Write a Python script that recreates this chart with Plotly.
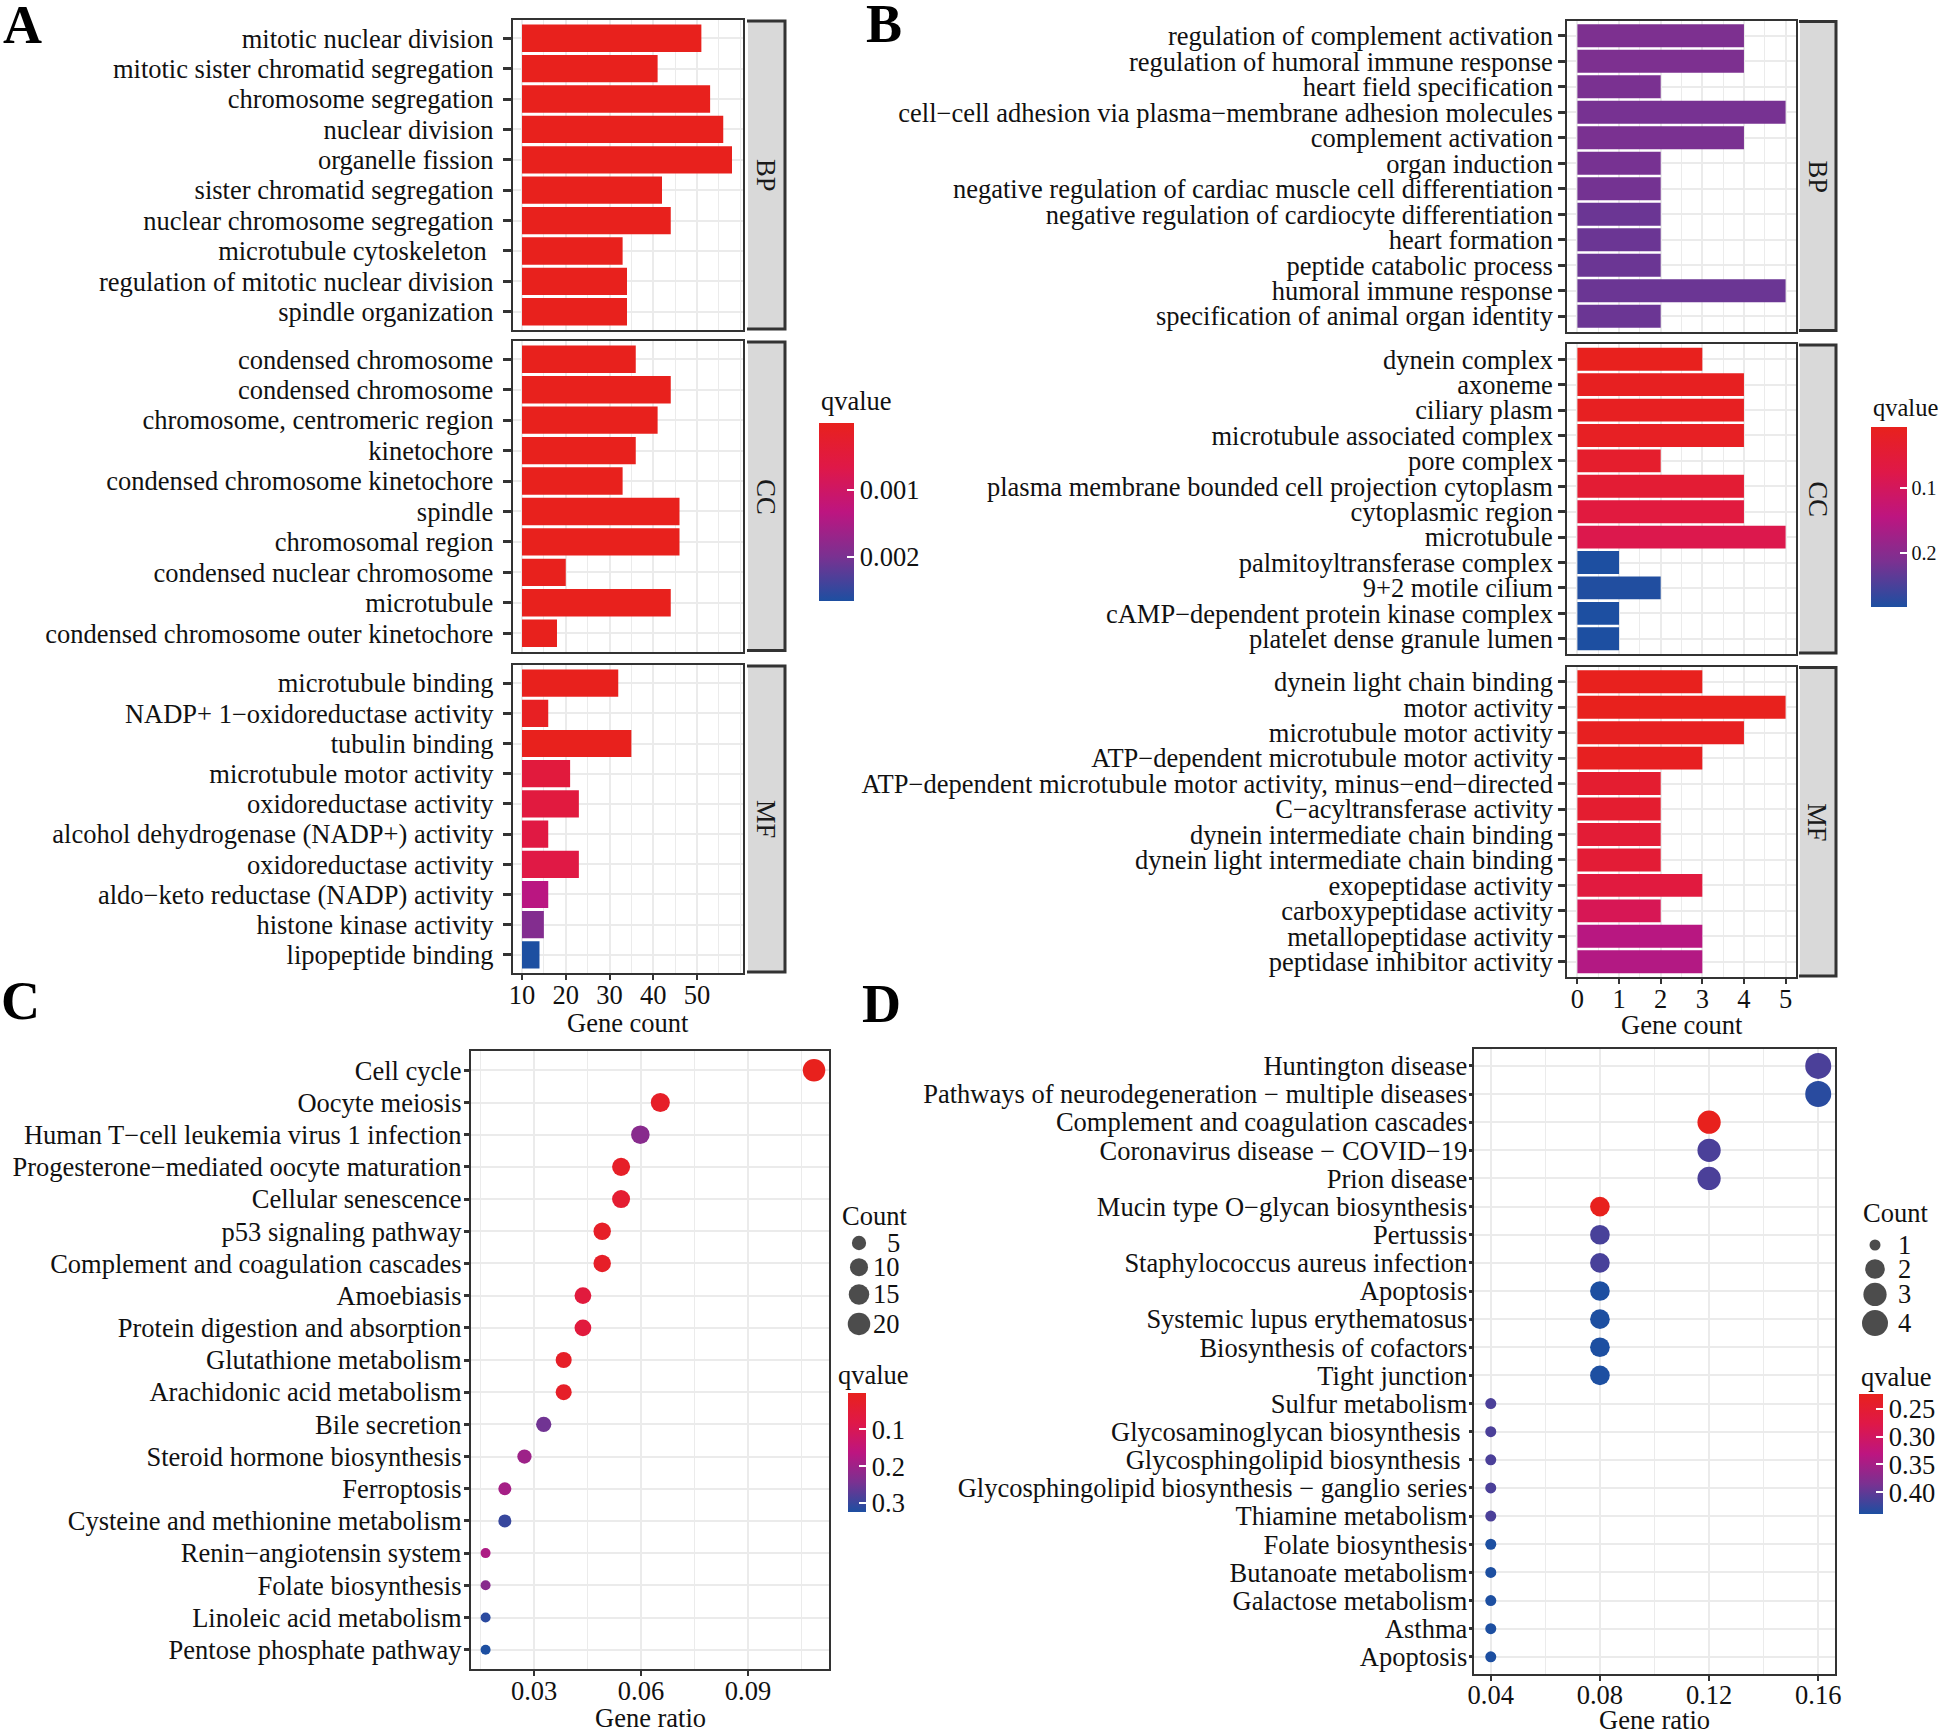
import plotly.graph_objects as go
import numpy as np

W, H = 1946, 1733
FONT = "Liberation Serif"
FS = 26.5
MINUS = "\u2212"
NB = "\u00a0"

# ---------------- Panel A data ----------------
A_BP_terms = ["mitotic nuclear division", "mitotic sister chromatid segregation", "chromosome segregation",
              "nuclear division", "organelle fission", "sister chromatid segregation",
              "nuclear chromosome segregation", "microtubule cytoskeleton" + NB,
              "regulation of mitotic nuclear division", "spindle organization"]
A_BP_count = [51, 41, 53, 56, 58, 42, 44, 33, 34, 34]
A_BP_q = [1e-12, 1e-11, 1e-12, 1e-12, 1e-12, 1e-11, 1e-11, 2e-10, 3e-10, 3e-10]

A_CC_terms = ["condensed chromosome", "condensed chromosome", "chromosome, centromeric region", "kinetochore",
              "condensed chromosome kinetochore", "spindle", "chromosomal region",
              "condensed nuclear chromosome", "microtubule", "condensed chromosome outer kinetochore"]
A_CC_count = [36, 44, 41, 36, 33, 46, 46, 20, 44, 18]
A_CC_q = [1e-12, 1e-12, 1e-12, 1e-12, 1e-11, 1e-9, 1e-9, 1e-8, 1e-8, 2e-8]

A_MF_terms = ["microtubule binding", "NADP+ 1" + MINUS + "oxidoreductase activity", "tubulin binding",
              "microtubule motor activity", "oxidoreductase activity", "alcohol dehydrogenase (NADP+) activity",
              "oxidoreductase activity", "aldo" + MINUS + "keto reductase (NADP) activity",
              "histone kinase activity", "lipopeptide binding"]
A_MF_count = [32, 16, 35, 21, 23, 16, 23, 16, 15, 14]
A_MF_q = [2e-6, 0.0001, 2e-6, 0.0005, 0.00052, 0.00058, 0.00062, 0.00135, 0.0019, 0.00265]

# ---------------- Panel B data ----------------
B_BP_terms = ["regulation of complement activation", "regulation of humoral immune response",
              "heart field specification", "cell" + MINUS + "cell adhesion via plasma" + MINUS + "membrane adhesion molecules",
              "complement activation", "organ induction",
              "negative regulation of cardiac muscle cell differentiation",
              "negative regulation of cardiocyte differentiation", "heart formation",
              "peptide catabolic process", "humoral immune response", "specification of animal organ identity"]
B_BP_count = [4, 4, 2, 5, 4, 2, 2, 2, 2, 2, 5, 2]
B_BP_q = [0.212, 0.212, 0.215, 0.217, 0.215, 0.217, 0.219, 0.226, 0.226, 0.226, 0.226, 0.226]

B_CC_terms = ["dynein complex", "axoneme", "ciliary plasm", "microtubule associated complex", "pore complex",
              "plasma membrane bounded cell projection cytoplasm", "cytoplasmic region", "microtubule",
              "palmitoyltransferase complex", "9+2 motile cilium",
              "cAMP" + MINUS + "dependent protein kinase complex", "platelet dense granule lumen"]
B_CC_count = [3, 4, 4, 4, 2, 4, 4, 5, 1, 2, 1, 1]
B_CC_q = [0.006, 0.010, 0.012, 0.015, 0.030, 0.042, 0.060, 0.080, 0.285, 0.282, 0.285, 0.285]

B_MF_terms = ["dynein light chain binding", "motor activity", "microtubule motor activity",
              "ATP" + MINUS + "dependent microtubule motor activity",
              "ATP" + MINUS + "dependent microtubule motor activity, minus" + MINUS + "end" + MINUS + "directed",
              "C" + MINUS + "acyltransferase activity", "dynein intermediate chain binding",
              "dynein light intermediate chain binding", "exopeptidase activity", "carboxypeptidase activity",
              "metallopeptidase activity", "peptidase inhibitor activity"]
B_MF_count = [3, 5, 4, 3, 2, 2, 2, 2, 3, 2, 3, 3]
B_MF_q = [0.006, 0.004, 0.010, 0.010, 0.035, 0.035, 0.045, 0.045, 0.060, 0.090, 0.150, 0.155]

# ---------------- Panel C data ----------------
C_terms = ["Cell cycle", "Oocyte meiosis", "Human T" + MINUS + "cell leukemia virus 1 infection",
           "Progesterone" + MINUS + "mediated oocyte maturation", "Cellular senescence", "p53 signaling pathway",
           "Complement and coagulation cascades", "Amoebiasis", "Protein digestion and absorption",
           "Glutathione metabolism", "Arachidonic acid metabolism", "Bile secretion",
           "Steroid hormone biosynthesis", "Ferroptosis", "Cysteine and methionine metabolism",
           "Renin" + MINUS + "angiotensin system", "Folate biosynthesis", "Linoleic acid metabolism",
           "Pentose phosphate pathway"]
C_ratio = [0.1085, 0.0654, 0.0598, 0.0544, 0.0544, 0.0491, 0.0491, 0.0437, 0.0437, 0.0383, 0.0383,
           0.0327, 0.0273, 0.0218, 0.0218, 0.0164, 0.0164, 0.0164, 0.0164]
C_count = [20, 12, 11, 10, 10, 9, 9, 8, 8, 7, 7, 6, 5, 4, 4, 3, 3, 3, 3]
C_q = [0.0002, 0.02, 0.225, 0.02, 0.04, 0.02, 0.02, 0.06, 0.06, 0.02, 0.02, 0.25, 0.20, 0.19, 0.30,
       0.18, 0.225, 0.31, 0.3225]

# ---------------- Panel D data ----------------
D_terms = ["Huntington disease", "Pathways of neurodegeneration " + MINUS + " multiple diseases",
           "Complement and coagulation cascades", "Coronavirus disease " + MINUS + " COVID" + MINUS + "19",
           "Prion disease", "Mucin type O" + MINUS + "glycan biosynthesis", "Pertussis",
           "Staphylococcus aureus infection", "Apoptosis", "Systemic lupus erythematosus",
           "Biosynthesis of cofactors", "Tight junction", "Sulfur metabolism",
           "Glycosaminoglycan biosynthesis" + NB, "Glycosphingolipid biosynthesis" + NB,
           "Glycosphingolipid biosynthesis " + MINUS + " ganglio series", "Thiamine metabolism",
           "Folate biosynthesis", "Butanoate metabolism", "Galactose metabolism", "Asthma", "Apoptosis"]
D_ratio = [0.16, 0.16, 0.12, 0.12, 0.12, 0.08, 0.08, 0.08, 0.08, 0.08, 0.08, 0.08,
           0.04, 0.04, 0.04, 0.04, 0.04, 0.04, 0.04, 0.04, 0.04, 0.04]
D_count = [4, 4, 3, 3, 3, 2, 2, 2, 2, 2, 2, 2, 1, 1, 1, 1, 1, 1, 1, 1, 1, 1]
D_q = [0.412, 0.432, 0.2237, 0.412, 0.412, 0.2237, 0.414, 0.414, 0.4387, 0.4387, 0.4387, 0.4387,
       0.412, 0.412, 0.412, 0.412, 0.412, 0.4387, 0.4387, 0.4387, 0.4387, 0.4387]

# legend / colourbar tick values
A_qticks = [0.001, 0.002]
B_qticks = [0.1, 0.2]
C_qticks = [0.1, 0.2, 0.3]
D_qticks = [0.25, 0.30, 0.35, 0.40]
C_size_legend = [5, 10, 15, 20]
D_size_legend = [1, 2, 3, 4]

# ---------------- helpers ----------------
CS = [[0.0, "#1D4FA1"], [0.25, "#7A3191"], [0.5, "#BD1580"], [0.75, "#DF1848"], [1.0, "#E8211D"]]
GRID = "#EBEBEB"
LINE = "#333333"


def px(x):
    return x / W


def py(y):
    return 1 - y / H


def dom_x(a, b):
    return [px(a), px(b)]


def dom_y(top, bottom):
    return [py(bottom), py(top)]


def size_fn(c, cmin, cmax, dmin, dmax):
    c = np.asarray(c, dtype=float)
    return dmin + (dmax - dmin) * np.sqrt((c - cmin) / (cmax - cmin))


fig = go.Figure()
layout = dict(width=W, height=H, margin=dict(l=0, r=0, t=0, b=0, autoexpand=False), paper_bgcolor="white",
              plot_bgcolor="white", showlegend=False, font=dict(family=FONT, size=FS, color="#111"))
annotations = []
shapes = []


def colorbar(x_left, y_top, length, thick, ticktext, ticks, fs):
    return dict(x=px(x_left), xanchor="left", y=py(y_top), yanchor="top", len=length, lenmode="pixels",
                thickness=thick, thicknessmode="pixels", xpad=0, ypad=0, outlinewidth=0,
                tickvals=[-t for t in ticks], ticktext=ticktext,
                ticks="inside", tickcolor="white", ticklen=7, tickwidth=1.5,
                tickfont=dict(family=FONT, size=fs, color="#111"), title=dict(text=""))


def yaxis_cfg(terms, dom, anchor, ticklen, standoff):
    n = len(terms)
    return dict(domain=dom, anchor=anchor, range=[n - 0.4, -0.6], tickmode="array",
                tickvals=list(range(n)), ticktext=terms, showgrid=True, gridcolor=GRID, gridwidth=2,
                ticks="outside", ticklen=ticklen, tickwidth=2.5, tickcolor=LINE, showline=True, mirror=True,
                linecolor=LINE, linewidth=1.6, zeroline=False, ticklabelstandoff=standoff,
                tickfont=dict(family=FONT, size=FS, color="#111"))


def xaxis_cfg(dom, anchor, rng, tickvals, minor_dtick, minor_tick0, show, ticktext=None):
    d = dict(domain=dom, anchor=anchor, range=rng, tickmode="array", tickvals=tickvals,
             showgrid=True, gridcolor=GRID, gridwidth=2, showline=True, mirror=True, linecolor=LINE,
             linewidth=1.6, zeroline=False,
             minor=dict(dtick=minor_dtick, tick0=minor_tick0, showgrid=True, gridcolor=GRID, gridwidth=1,
                        ticks=""),
             tickfont=dict(family=FONT, size=FS, color="#111"))
    if ticktext is not None:
        d["ticktext"] = ticktext
    if show:
        d.update(ticks="outside", ticklen=5, tickwidth=2, tickcolor=LINE, showticklabels=True,
                 ticklabelstandoff=-8)
    else:
        d.update(ticks="", showticklabels=False)
    return d


def strip(x0, x1, t, b, lab):
    shapes.append(dict(type="rect", xref="paper", yref="paper", x0=px(x0 + 1), x1=px(x1), y0=py(b), y1=py(t),
                       fillcolor="#D9D9D9", line=dict(width=0), layer="below"))
    shapes.append(dict(type="path", xref="paper", yref="paper",
                       path="M %f,%f L %f,%f L %f,%f L %f,%f" % (px(x0), py(t + 1), px(x1), py(t + 1),
                                                              px(x1), py(b - 1), px(x0), py(b - 1)),
                       line=dict(color=LINE, width=3)))
    annotations.append(dict(xref="paper", yref="paper", x=px((x0 + x1) / 2), y=py((t + b) / 2), text=lab,
                            textangle=90, showarrow=False, font=dict(family=FONT, size=FS, color="#1a1a1a"),
                            xanchor="center", yanchor="middle"))


# ---------------- Panel A bars ----------------
A_sets = [(A_BP_terms, A_BP_count, A_BP_q, (20, 330), "BP"),
          (A_CC_terms, A_CC_count, A_CC_q, (341, 651.5), "CC"),
          (A_MF_terms, A_MF_count, A_MF_q, (665, 973), "MF")]
A_all_q = A_BP_q + A_CC_q + A_MF_q
A_qmin, A_qmax = min(A_all_q), max(A_all_q)
A_base = 10
A_xl, A_xr = 512.5, 742.5
for i, (terms, cnt, q, (t, b), lab) in enumerate(A_sets):
    k = i + 1
    sfx = "" if k == 1 else str(k)
    marker = dict(color=[-v for v in q], colorscale=CS, cmin=-A_qmax, cmax=-A_qmin, line=dict(width=0))
    if k == 2:
        marker.update(showscale=True,
                      colorbar=colorbar(819, 422.7, 178, 35, ["%.3f" % t for t in A_qticks], A_qticks, FS))
    fig.add_trace(go.Bar(y=list(range(len(terms))), x=[c - A_base for c in cnt], base=A_base,
                         orientation="h", width=0.9, marker=marker, xaxis="x" + sfx, yaxis="y" + sfx))
    layout["yaxis" + sfx] = yaxis_cfg(terms, dom_y(t, b), "x" + sfx, 8, 4)
    layout["xaxis" + sfx] = xaxis_cfg(dom_x(A_xl, A_xr), "y" + sfx, [7.83, 60.4], [10, 20, 30, 40, 50], 5, 0,
                                      k == 3)
    strip(747, 785, t, b, lab)

# ---------------- Panel B bars ----------------
B_sets = [(B_BP_terms, B_BP_count, B_BP_q, (20.5, 331.5), "BP"),
          (B_CC_terms, B_CC_count, B_CC_q, (344, 654), "CC"),
          (B_MF_terms, B_MF_count, B_MF_q, (666.5, 977), "MF")]
B_all_q = B_BP_q + B_CC_q + B_MF_q
B_qmin, B_qmax = min(B_all_q), max(B_all_q)
B_xl, B_xr = 1567, 1796
for i, (terms, cnt, q, (t, b), lab) in enumerate(B_sets):
    k = i + 4
    sfx = str(k)
    marker = dict(color=[-v for v in q], colorscale=CS, cmin=-B_qmax, cmax=-B_qmin, line=dict(width=0))
    if k == 5:
        marker.update(showscale=True,
                      colorbar=colorbar(1871, 427, 180, 35.5, ["%g" % t for t in B_qticks], B_qticks, 20))
    fig.add_trace(go.Bar(y=list(range(len(terms))), x=cnt, orientation="h", width=0.9, marker=marker,
                         xaxis="x" + sfx, yaxis="y" + sfx))
    layout["yaxis" + sfx] = yaxis_cfg(terms, dom_y(t, b), "x" + sfx, 7, 0)
    layout["xaxis" + sfx] = xaxis_cfg(dom_x(B_xl, B_xr), "y" + sfx, [-0.25, 5.25], [0, 1, 2, 3, 4, 5], 0.5, 0,
                                      k == 6)
    strip(1799, 1836, t, b, lab)

# ---------------- Panel C dots ----------------
C_cmin, C_cmax = min(C_count), max(C_count)
C_dmin, C_dmax = 10, 22.5
fig.add_trace(go.Scatter(x=C_ratio, y=list(range(len(C_terms))), mode="markers", xaxis="x7", yaxis="y7",
                         marker=dict(size=size_fn(C_count, C_cmin, C_cmax, C_dmin, C_dmax),
                                     color=[-v for v in C_q], colorscale=CS, cmin=-max(C_q), cmax=-min(C_q),
                                     line=dict(width=0), opacity=1, showscale=True,
                                     colorbar=colorbar(848, 1392.5, 118.5, 17.6, ["%g" % t for t in C_qticks],
                                                       C_qticks, FS))))
layout["yaxis7"] = yaxis_cfg(C_terms, dom_y(1051, 1669), "x7", 5, -3)
layout["xaxis7"] = xaxis_cfg(dom_x(470.6, 829), "y7", [0.0122, 0.1127], [0.03, 0.06, 0.09], 0.015, 0, True,
                             ["0.03", "0.06", "0.09"])

# ---------------- Panel D dots ----------------
D_cmin, D_cmax = min(D_count), max(D_count)
D_dmin, D_dmax = 11, 26
fig.add_trace(go.Scatter(x=D_ratio, y=list(range(len(D_terms))), mode="markers", xaxis="x8", yaxis="y8",
                         marker=dict(size=size_fn(D_count, D_cmin, D_cmax, D_dmin, D_dmax),
                                     color=[-v for v in D_q], colorscale=CS, cmin=-max(D_q), cmax=-min(D_q),
                                     line=dict(width=0), opacity=1, showscale=True,
                                     colorbar=colorbar(1859, 1394, 119.5, 24, ["%.2f" % t for t in D_qticks],
                                                       D_qticks, FS))))
layout["yaxis8"] = yaxis_cfg(D_terms, dom_y(1049, 1673.7), "x8", 4, -4)
layout["xaxis8"] = xaxis_cfg(dom_x(1474.4, 1834.6), "y8", [0.034, 0.166], [0.04, 0.08, 0.12, 0.16], 0.02, 0,
                             True, ["0.04", "0.08", "0.12", "0.16"])


# ---------------- size legends ----------------
def size_legend(ax, vals, cmin, cmax, dmin, dmax, x_key, y_first, gap, x_lab, lab_anchor, box):
    d = size_fn(vals, cmin, cmax, dmin, dmax)
    ys = [y_first]
    for i in range(1, len(vals)):
        ys.append(ys[-1] + max((d[i - 1] + d[i]) / 2 + gap, 24))
    fig.add_trace(go.Scatter(x=[x_key] * len(vals), y=ys, mode="markers", xaxis="x" + ax, yaxis="y" + ax,
                             marker=dict(size=d, color="black", line=dict(width=0)), hoverinfo="skip"))
    x0, x1, y0, y1 = box
    layout["xaxis" + ax] = dict(domain=dom_x(x0, x1), anchor="y" + ax, range=[x0, x1], visible=False,
                                fixedrange=True)
    layout["yaxis" + ax] = dict(domain=dom_y(y0, y1), anchor="x" + ax, range=[y1, y0], visible=False,
                                fixedrange=True)
    for v, yy in zip(vals, ys):
        annotations.append(dict(xref="x" + ax, yref="y" + ax, x=x_lab, y=yy, text=str(v), showarrow=False,
                                xanchor=lab_anchor, yanchor="middle",
                                font=dict(family=FONT, size=FS, color="#111")))


size_legend("9", C_size_legend, C_cmin, C_cmax, C_dmin, C_dmax, 859, 1243, 8, 902, "right", (830, 920, 1225, 1345))
size_legend("10", D_size_legend, D_cmin, D_cmax, D_dmin, D_dmax, 1875, 1245, 4, 1896, "left", (1855, 1935, 1225, 1345))

# ---------------- axis titles, legend titles & panel letters ----------------
for txt, x, y in [("Gene count", 627.5, 1023), ("Gene count", 1681.5, 1025),
                  ("Gene ratio", 650, 1717.5), ("Gene ratio", 1654.5, 1719.5)]:
    annotations.append(dict(xref="paper", yref="paper", x=px(x), y=py(y), text=txt, showarrow=False,
                            xanchor="center", yanchor="middle", font=dict(family=FONT, size=FS, color="#111")))

for txt, x, y, fs in [("qvalue", 819, 401, FS), ("qvalue", 1871, 407, 24.5), ("Count", 840, 1216, FS),
                      ("qvalue", 836, 1375, FS), ("Count", 1861, 1213, FS), ("qvalue", 1859, 1377, FS)]:
    annotations.append(dict(xref="paper", yref="paper", x=px(x), y=py(y), text=txt, showarrow=False,
                            xanchor="left", yanchor="middle", font=dict(family=FONT, size=fs, color="#111")))

for txt, x, y in [("A", 1, 25), ("B", 864, 24), ("C", -1, 1001), ("D", 860, 1004)]:
    annotations.append(dict(xref="paper", yref="paper", x=px(x), y=py(y), text="<b>%s</b>" % txt,
                            showarrow=False, xanchor="left", yanchor="middle",
                            font=dict(family=FONT, size=54, color="black")))

layout["annotations"] = annotations
layout["shapes"] = shapes
fig.update_layout(**layout)
# remove the browser's default page margin so the 1946x1733 figure fills the window exactly
fig.write_html("out.html", config={"displayModeBar": False},
               post_script="document.body.style.margin='0';document.body.style.overflow='hidden';")
